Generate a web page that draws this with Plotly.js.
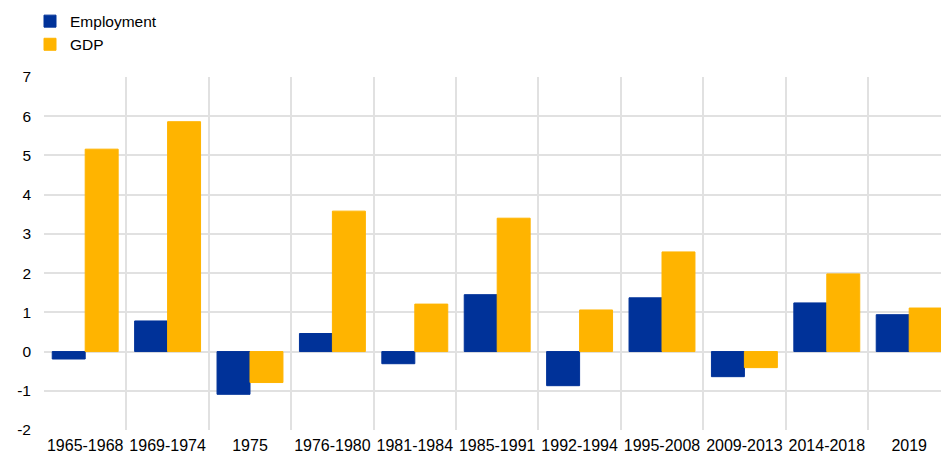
<!DOCTYPE html>
<html>
<head>
<meta charset="utf-8">
<script src="https://cdn.plot.ly/plotly-3.0.1.min.js"></script>
<style>html,body{margin:0;padding:0;background:#fff;}#chart{width:941px;height:455px;}</style>
</head>
<body>
<div id="chart"></div>
<script>
var categories = ["1965-1968","1969-1974","1975","1976-1980","1981-1984","1985-1991","1992-1994","1995-2008","2009-2013","2014-2018","2019"];
var employment = [-0.19, 0.78, -1.09, 0.46, -0.31, 1.45, -0.87, 1.37, -0.64, 1.24, 0.94];
var gdp = [5.16, 5.86, -0.79, 3.58, 1.21, 3.40, 1.06, 2.54, -0.41, 1.98, 1.11];
var yTicks = [-2, -1, 0, 1, 2, 3, 4, 5, 6, 7];
var yTickText = ["-2", "-1", "0", "1", "2", "3", "4", "5", "6", "7"];

var traces = [
  {type: "bar", name: "Employment", x: categories, y: employment,
   marker: {color: "#003299", line: {color: "#003299", width: 1}}},
  {type: "bar", name: "GDP", x: categories, y: gdp,
   marker: {color: "#FFB400", line: {color: "#FFB400", width: 1}}}
];

var layout = {
  width: 941, height: 455,
  margin: {l: 44, r: 0, t: 77, b: 25},
  paper_bgcolor: "#fff", plot_bgcolor: "#fff",
  font: {family: "Liberation Sans, Arial, sans-serif", size: 16, color: "#000"},
  barmode: "group", bargap: 0.2, bargroupgap: 0,
  showlegend: true,
  legend: {x: -0.0156, xref: "paper", y: 0.99, yref: "container", xanchor: "left", yanchor: "top",
           orientation: "v", font: {size: 15.5}, bgcolor: "rgba(0,0,0,0)", tracegroupgap: 0},
  xaxis: {
    type: "category",
    range: [-0.5, 10.386],
    tickson: "boundaries",
    tickangle: 0,
    showgrid: true, gridcolor: "#e1e1e1", gridwidth: 2,
    ticks: "", showline: false, zeroline: false,
    tickfont: {size: 16},
    ticklabelstandoff: 4
  },
  yaxis: {
    range: [-2, 7],
    tickvals: yTicks,
    ticktext: yTickText,
    showgrid: true, gridcolor: "#e1e1e1", gridwidth: 2,
    zeroline: true, zerolinecolor: "#e1e1e1", zerolinewidth: 2,
    showline: false, ticks: "",
    tickfont: {size: 15.5},
    ticklabelstandoff: 12
  }
};

Plotly.newPlot("chart", traces, layout, {displayModeBar: false, staticPlot: true});
</script>
</body>
</html>
